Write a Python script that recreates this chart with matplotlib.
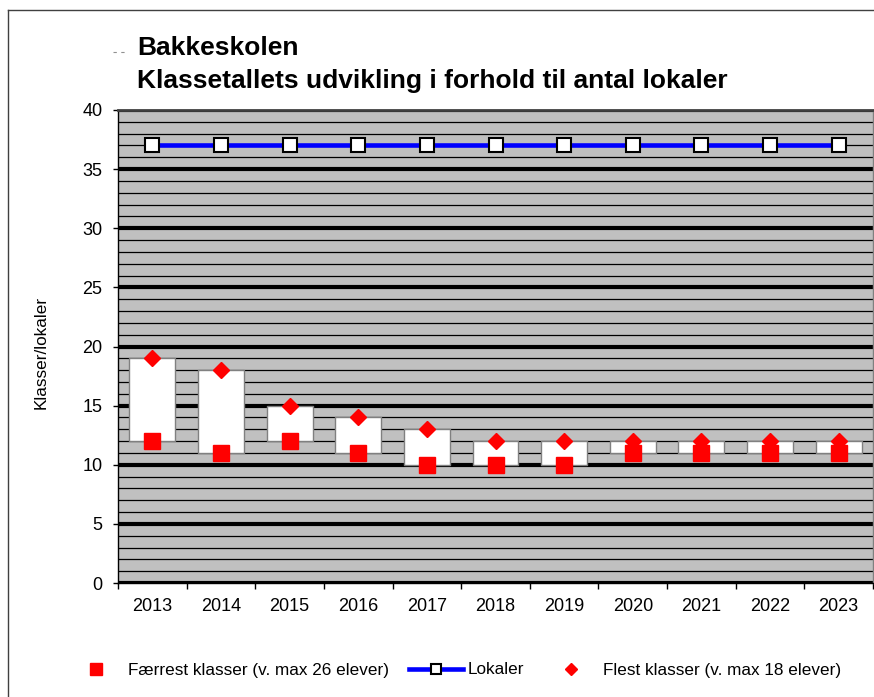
import numpy as np
import matplotlib.pyplot as plt
from matplotlib.lines import Line2D
from matplotlib.ticker import MultipleLocator, FixedLocator

plt.rcParams['font.family'] = ['Liberation Sans', 'DejaVu Sans']

# chart data
years = ['2013', '2014', '2015', '2016', '2017', '2018', '2019', '2020', '2021', '2022', '2023']
faerrest = [12, 11, 12, 11, 10, 10, 10, 11, 11, 11, 11]
flest = [19, 18, 15, 14, 13, 12, 12, 12, 12, 12, 12]
lokaler = [37, 37, 37, 37, 37, 37, 37, 37, 37, 37, 37]

title1 = 'Bakkeskolen'
title2 = 'Klassetallets udvikling i forhold til antal lokaler'

W, H = 874, 697
fig = plt.figure(figsize=(W / 100, H / 100), dpi=100)
ax = fig.add_axes([118 / W, 1 - 583 / H, (873 - 118) / W, (583 - 110) / H])
ax.set_facecolor('#C0C0C0')

x = np.arange(len(years))

# up-down bars between lowest and highest class counts
lo = np.array(faerrest)
hi = np.array(flest)
ax.bar(x, hi - lo, bottom=lo, width=0.67, color='white', edgecolor='#808080', linewidth=1, zorder=3)

# lokaler line
ax.plot(x, lokaler, color='#0000FF', linewidth=3.3, marker='s', markersize=10,
        markerfacecolor='white', markeredgecolor='black', markeredgewidth=1.5, zorder=5)

# min / max markers
ax.plot(x, faerrest, linestyle='none', marker='s', markersize=11, color='#FF0000', zorder=6)
ax.plot(x, flest, linestyle='none', marker='D', markersize=8, color='#FF0000', zorder=6)

ax.set_xlim(-0.5, len(years) - 0.5)
ax.set_ylim(0, 40)

# gridlines: thin every 1, thick every 5
ax.yaxis.set_major_locator(MultipleLocator(5))
ax.yaxis.set_minor_locator(MultipleLocator(1))
ax.grid(which='minor', axis='y', color='black', linewidth=0.9, zorder=1)
ax.grid(which='major', axis='y', color='black', linewidth=3, zorder=1)
ax.set_axisbelow(True)

ax.set_xticks(x)
ax.set_xticklabels(years)
ax.xaxis.set_minor_locator(FixedLocator(np.arange(-0.5, len(years), 1.0)))
ax.tick_params(axis='x', which='major', length=0, pad=11, labelsize=13)
ax.tick_params(axis='x', which='minor', length=4, width=1, direction='out', color='black')
ax.tick_params(axis='y', which='major', length=3.6, width=1, direction='out', pad=7.5, labelsize=13)
ax.tick_params(axis='y', which='minor', length=0)

for s in ['left', 'bottom']:
    ax.spines[s].set_color('black')
    ax.spines[s].set_linewidth(1)
ax.spines['top'].set_color('#404040')
ax.spines['top'].set_linewidth(2)
ax.spines['right'].set_color('#808080')
ax.spines['right'].set_linewidth(1)

fig.text(41 / W, 1 - 352 / H, 'Klasser/lokaler', rotation=90, ha='center', va='center', fontsize=12.3)

# titles
fig.text(137 / W, 1 - 48 / H, title1, fontsize=19, fontweight='bold', ha='left', va='center')
fig.text(137 / W, 1 - 81 / H, title2, fontsize=19, fontweight='bold', ha='left', va='center')
fig.add_artist(Line2D([113 / W, 126 / W], [1 - 52 / H, 1 - 52 / H], color='#909090',
                      linewidth=0.8, linestyle=(0, (3, 4))))

# outer frame
fig.add_artist(Line2D([8 / W, 8 / W], [0, 1 - 10 / H], color='#404040', linewidth=1))
fig.add_artist(Line2D([8 / W, 1], [1 - 10 / H, 1 - 10 / H], color='#404040', linewidth=1))

# legend
handles = [
    Line2D([], [], linestyle='none', marker='s', markersize=8, color='#FF0000'),
    Line2D([], [], color='#0000FF', linewidth=3.3, marker='s', markersize=7,
           markerfacecolor='white', markeredgecolor='black', markeredgewidth=1.5),
    Line2D([], [], linestyle='none', marker='D', markersize=6, color='#FF0000'),
]
labels = ['Færrest klasser (v. max 26 elever)', 'Lokaler', 'Flest klasser (v. max 18 elever)']
fig.legend(handles, labels, loc='center left', bbox_to_anchor=(69 / W, 1 - 670 / H),
           ncol=3, frameon=False, fontsize=12.3, handlelength=3.2, handletextpad=0.25,
           columnspacing=1.15, borderpad=0, borderaxespad=0)

fig.savefig('out.png', dpi=100)
